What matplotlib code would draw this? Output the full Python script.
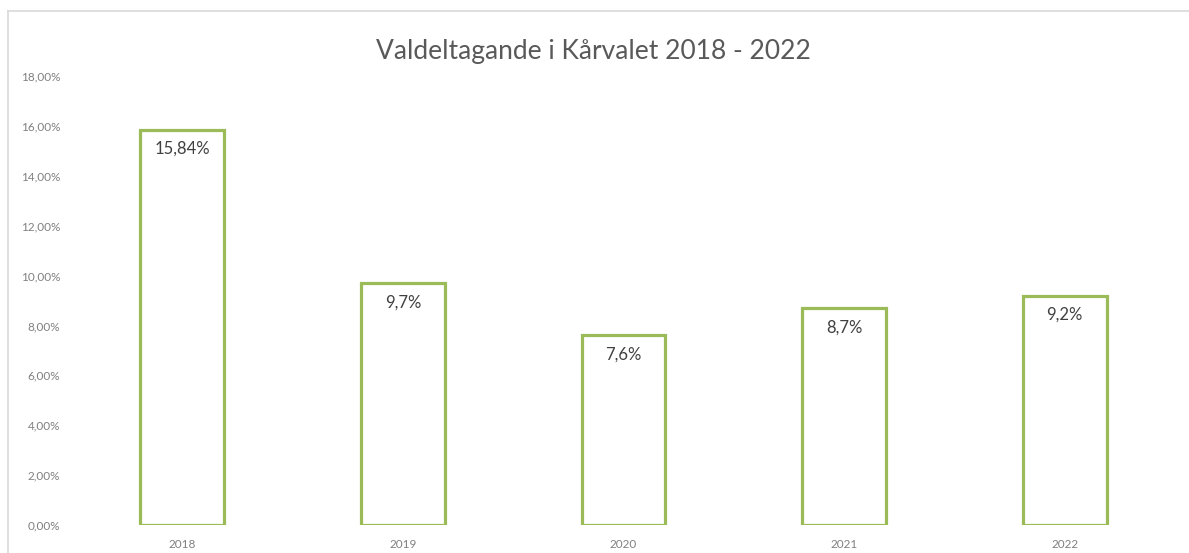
import matplotlib.pyplot as plt
from matplotlib.lines import Line2D
from matplotlib.ticker import FuncFormatter

years = ['2018', '2019', '2020', '2021', '2022']
turnout = [15.84, 9.7, 7.6, 8.7, 9.2]
labels = ['15,84%', '9,7%', '7,6%', '8,7%', '9,2%']
yticks = [0, 2, 4, 6, 8, 10, 12, 14, 16, 18]

plt.rcParams['font.family'] = ['Lato', 'DejaVu Sans']

W, H = 1189, 553
fig = plt.figure(figsize=(W / 100, H / 100), dpi=100)
ax = fig.add_axes([72 / W, 1 - 525 / H, (1175 - 72) / W, (525 - 76) / H])

green = '#9BBB59'
x = range(len(years))
bars = ax.bar(x, turnout, width=0.38, facecolor='white', edgecolor=green, linewidth=2.3)

for b, lab in zip(bars, labels):
    ax.text(b.get_x() + b.get_width() / 2, b.get_height() - 0.45, lab,
            ha='center', va='top', fontsize=12, color='#404040')

ax.set_xlim(-0.5, len(years) - 0.5)
ax.set_ylim(0, 18)
ax.set_xticks(list(x))
ax.set_xticklabels(years)
ax.set_yticks(yticks)
ax.yaxis.set_major_formatter(FuncFormatter(lambda v, p: f'{v:.2f}'.replace('.', ',') + '%'))
ax.tick_params(length=0, labelsize=8.5, colors='#808080')
ax.tick_params(axis='y', pad=8.5)
ax.tick_params(axis='x', pad=10)
for s in ax.spines.values():
    s.set_visible(False)

fig.text(593 / W, 1 - 52 / H, 'Valdeltagande i Kårvalet 2018 - 2022',
         ha='center', va='center', fontsize=19, color='#595959')

# chart border (only top and left visible in the crop)
fig.add_artist(Line2D([8 / W, 1], [1 - 11 / H, 1 - 11 / H], transform=fig.transFigure,
                      color='#D9D9D9', linewidth=1.2))
fig.add_artist(Line2D([8 / W, 8 / W], [1 - 11 / H, 0], transform=fig.transFigure,
                      color='#D9D9D9', linewidth=1.2))

fig.savefig('out.png', dpi=100)
